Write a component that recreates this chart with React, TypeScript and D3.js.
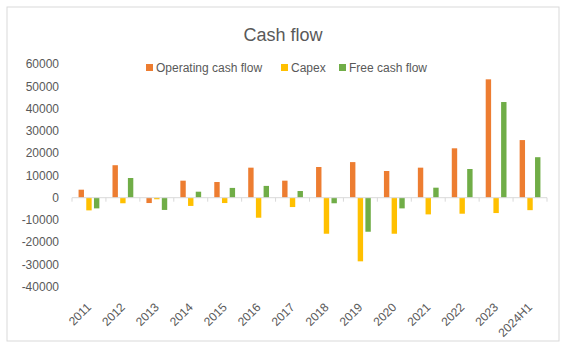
import React from "react";
import * as d3 from "d3";

const categories = ["2011","2012","2013","2014","2015","2016","2017","2018","2019","2020","2021","2022","2023","2024H1"];
const operating = [3600, 14600, -2400, 7650, 7050, 13500, 7650, 13800, 16000, 12000, 13500, 22200, 53200, 25900];
const capex = [-5700, -2500, -700, -3700, -2400, -9000, -4200, -16200, -28600, -16200, -7500, -7200, -6900, -5600];
const freeCash = [-4800, 8850, -5500, 2700, 4400, 5300, 3000, -2500, -15300, -4800, 4500, 12900, 43000, 18200];
const yTicks = [60000, 50000, 40000, 30000, 20000, 10000, 0, -10000, -20000, -30000, -40000];
const seriesNames = ["Operating cash flow", "Capex", "Free cash flow"];
const colors = ["#ED7D31", "#FFC000", "#70AD47"];

export default function App() {
  const W = 567, H = 348;
  const x0 = 72, x1 = 547;
  const y = d3.scaleLinear().domain([-40000, 60000]).range([286.7, 64.2]);
  const x = d3.scaleBand().domain(categories).range([x0, x1]).paddingInner(0).paddingOuter(0);
  const bw = x.bandwidth();
  const barW = 5.4;
  const gap = 2.3;
  const groupW = barW * 3 + gap * 2;
  const series = [operating, capex, freeCash];
  const font = "'Liberation Sans', Arial, sans-serif";
  const zeroY = y(0);
  const legendItems = [
    { sx: 146, tx: 156 },
    { sx: 281, tx: 291 },
    { sx: 339, tx: 349 },
  ];
  return (
    <svg width={W} height={H} style={{ position: "absolute", left: 0, top: 0 }} fontFamily={font}>
      <rect x={0} y={0} width={W} height={H} fill="#fff" />
      <rect x={7} y={7} width={552} height={334} fill="#fff" stroke="#d9d9d9" strokeWidth={1} />
      <text x={283} y={41} textAnchor="middle" fontSize={18} fill="#595959">Cash flow</text>
      {legendItems.map((it, i) => (
        <g key={i}>
          <rect x={it.sx} y={64} width={7} height={7} fill={colors[i]} />
          <text x={it.tx} y={72} fontSize={12} fill="#595959">{seriesNames[i]}</text>
        </g>
      ))}
      {yTicks.map((t) => (
        <text key={t} x={59} y={y(t)} dy="0.35em" textAnchor="end" fontSize={12} fill="#595959">{t}</text>
      ))}
      {series.map((vals, si) =>
        vals.map((v, ci) => {
          const bx = (x(categories[ci]) as number) + (bw - groupW) / 2 + si * (barW + gap);
          const top = Math.min(y(v), zeroY);
          const h = Math.abs(y(v) - zeroY);
          return <rect key={si + "-" + ci} x={bx} y={top} width={barW} height={h} fill={colors[si]} />;
        })
      )}
      <line x1={x0} x2={x1} y1={zeroY} y2={zeroY} stroke="#d9d9d9" strokeWidth={1} />
      {d3.range(categories.length + 1).map((i) => (
        <line key={i} x1={x0 + i * bw} x2={x0 + i * bw} y1={zeroY} y2={zeroY + 4} stroke="#d9d9d9" strokeWidth={1} />
      ))}
      {categories.map((c) => {
        const cx = (x(c) as number) + bw / 2 - 3;
        const cy = 302;
        return (
          <text key={c} x={cx} y={cy} textAnchor="end" fontSize={12} fill="#595959" transform={`rotate(-45 ${cx} ${cy})`} dy="0.7em">{c}</text>
        );
      })}
    </svg>
  );
}
